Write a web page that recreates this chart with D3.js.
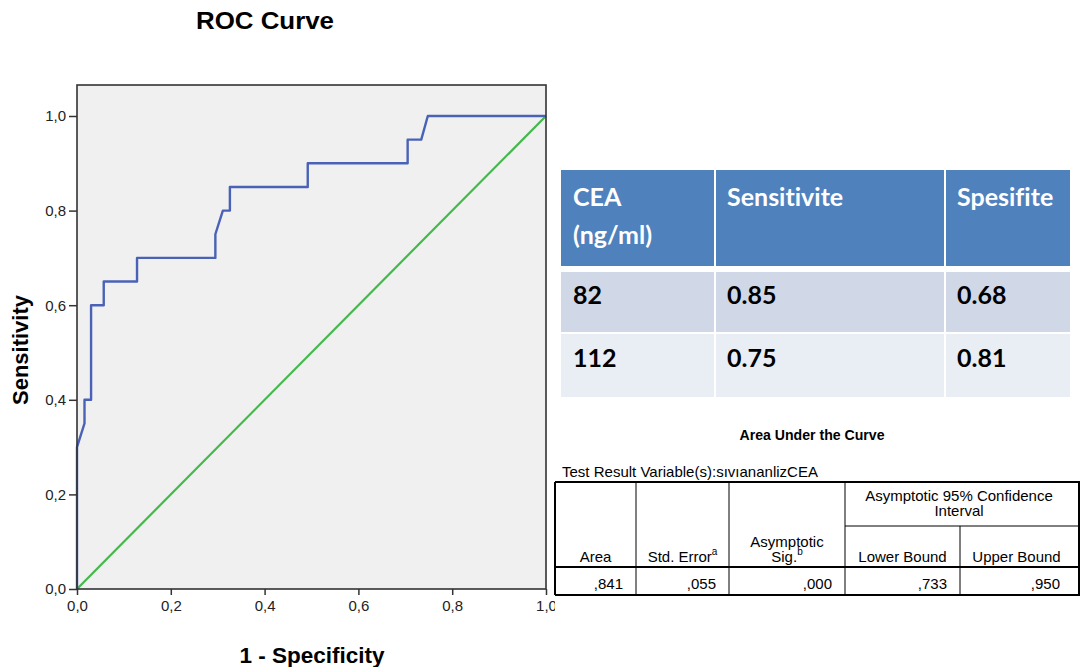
<!DOCTYPE html>
<html lang="en">
<head>
<meta charset="UTF-8">
<title>ROC Curve</title>
<style>
    html, body { margin: 0; padding: 0; background: #fff; }
    text { font-family: "Liberation Sans", Arial, sans-serif; fill: #000; }
    .tick line { stroke: #333; stroke-width: 1.5; }
    .tick text { font-size: 15px; fill: #222; }
    .cut text { font-family: Lato, "Open Sans", sans-serif; font-weight: 700; font-size: 25px; font-variant-ligatures: none; }
    .auc text { font-size: 15px; }
</style>
</head>
<body>
<div id="wrapper"></div>
<script src="https://d3js.org/d3.v7.min.js"></script>
<script>
// ROC curve points: 1 - specificity / sensitivity
const fpr = [0, 0, 0.016, 0.016, 0.03, 0.03, 0.057, 0.057, 0.128, 0.128, 0.295, 0.295, 0.311, 0.326, 0.326, 0.492, 0.492, 0.705, 0.705, 0.734, 0.748, 1]
const tpr = [0, 0.30, 0.35, 0.40, 0.40, 0.60, 0.60, 0.65, 0.65, 0.70, 0.70, 0.75, 0.80, 0.80, 0.85, 0.85, 0.90, 0.90, 0.95, 0.95, 1, 1]
// reference (chance) line
const refX = [0, 1]
const refY = [0, 1]
const axisTicks = [0, 0.2, 0.4, 0.6, 0.8, 1]

// cut-off table
const cutHeader = [["CEA", "(ng/ml)"], ["Sensitivite"], ["Spesifite"]]
const cutValues = ["82", "112"]
const sensValues = ["0.85", "0.75"]
const specValues = ["0.68", "0.81"]

// area under the curve table
const aucHeader = ["Area", "Std. Error", "Asymptotic|Sig.", "Lower Bound", "Upper Bound"]
const aucSup = ["", "a", "b", "", ""]
const aucValues = [",841", ",055", ",000", ",733", ",950"]

const width = 1080, height = 667;
const svg = d3.select('#wrapper').append('svg')
    .attr('width', width)
    .attr('height', height);

// ===== ROC plot
const plot = { left: 77, right: 546, top: 85, bottom: 589 };
const xScale = d3.scaleLinear().domain([0, 1]).range([plot.left, plot.right]);
const yScale = d3.scaleLinear().domain([0, 1]).range([plot.bottom, 116]);
const fmt = d => d3.format('.1f')(d).replace('.', ',');

svg.append('rect')
    .attr('x', plot.left).attr('y', plot.top)
    .attr('width', plot.right - plot.left).attr('height', plot.bottom - plot.top)
    .attr('fill', '#f0f0f0');

const line = d3.line().x(d => xScale(d[0])).y(d => yScale(d[1])).curve(d3.curveLinear);

svg.append('path')
    .attr('d', line(d3.zip(refX, refY)))
    .attr('fill', 'none')
    .attr('stroke', '#43b94a')
    .attr('stroke-width', 2.2);

svg.append('path')
    .attr('d', line(d3.zip(fpr, tpr)))
    .attr('fill', 'none')
    .attr('stroke', '#4a62b6')
    .attr('stroke-width', 2.4)
    .attr('stroke-linejoin', 'round');

// frame
svg.append('rect')
    .attr('x', plot.left).attr('y', plot.top)
    .attr('width', plot.right - plot.left).attr('height', plot.bottom - plot.top)
    .attr('fill', 'none')
    .attr('stroke', '#333')
    .attr('stroke-width', 1.6);

const yAxis = svg.append('g')
    .attr('transform', `translate(${plot.left},0)`)
    .call(d3.axisLeft(yScale).tickValues(axisTicks).tickFormat(fmt).tickSize(8).tickSizeOuter(0).tickPadding(3));
yAxis.select('.domain').remove();

const xAxis = svg.append('g')
    .attr('transform', `translate(0,${plot.bottom})`)
    .call(d3.axisBottom(xScale).tickValues(axisTicks).tickFormat(fmt).tickSize(6).tickSizeOuter(0).tickPadding(5));
xAxis.select('.domain').remove();

svg.append('text')
    .attr('x', 265).attr('y', 29)
    .attr('text-anchor', 'middle')
    .attr('font-size', 24).attr('font-weight', 700)
    .attr('textLength', 138).attr('lengthAdjust', 'spacingAndGlyphs')
    .text('ROC Curve');

svg.append('text')
    .attr('x', 312).attr('y', 663)
    .attr('text-anchor', 'middle')
    .attr('font-size', 22.5).attr('font-weight', 700)
    .text('1 - Specificity');

svg.append('text')
    .attr('transform', 'translate(28,350) rotate(-90)')
    .attr('text-anchor', 'middle')
    .attr('font-size', 22).attr('font-weight', 700)
    .text('Sensitivity');

// ===== cut-off table (top right)
const cut = svg.append('g').attr('class', 'cut');
const cutCols = [561, 715, 945, 1070];
const cutRows = [[272, 332, '#d0d8e8'], [334, 397, '#e9edf4']];

cut.append('rect')
    .attr('x', cutCols[0]).attr('y', 170)
    .attr('width', cutCols[3] - cutCols[0]).attr('height', 96)
    .attr('fill', '#4f81bd');

cutRows.forEach(r => {
    cut.append('rect')
        .attr('x', cutCols[0]).attr('y', r[0])
        .attr('width', cutCols[3] - cutCols[0]).attr('height', r[1] - r[0])
        .attr('fill', r[2]);
});

// white cell borders
cutCols.slice(1, 3).forEach(x => {
    cut.append('line')
        .attr('x1', x).attr('x2', x).attr('y1', 170).attr('y2', 397)
        .attr('stroke', '#fff').attr('stroke-width', 2);
});

cutHeader.forEach((lines, i) => {
    lines.forEach((t, j) => {
        cut.append('text')
            .attr('x', cutCols[i] + 12).attr('y', 206 + j * 38)
            .style('fill', '#fff')
            .text(t);
    });
});

[cutValues, sensValues, specValues].forEach((col, i) => {
    col.forEach((t, j) => {
        cut.append('text')
            .attr('x', cutCols[i] + 12).attr('y', [304, 367][j])
            .text(t);
    });
});

// ===== AUC table (bottom right)
const auc = svg.append('g').attr('class', 'auc');
const aucCols = [555, 636, 729, 845, 960, 1073];
const tTop = 482, tSub = 526, tHead = 567, tBot = 595;

// white sheet behind the table (also hides part of the last x label)
auc.append('rect')
    .attr('x', 555).attr('y', 470).attr('width', 525).attr('height', 160)
    .attr('fill', '#fff');

auc.append('text')
    .attr('x', 812).attr('y', 440)
    .attr('text-anchor', 'middle')
    .attr('font-weight', 700)
    .attr('font-size', 17)
    .attr('textLength', 145).attr('lengthAdjust', 'spacingAndGlyphs')
    .text('Area Under the Curve');

auc.append('text')
    .attr('x', 562).attr('y', 477)
    .attr('textLength', 256).attr('lengthAdjust', 'spacingAndGlyphs')
    .text('Test Result Variable(s):sıvıananlizCEA');

const hline = (x1, x2, y, w) => auc.append('line')
    .attr('x1', x1).attr('x2', x2).attr('y1', y).attr('y2', y)
    .attr('stroke', '#000').attr('stroke-width', w);
const vline = (x, y1, y2, w) => auc.append('line')
    .attr('x1', x).attr('x2', x).attr('y1', y1).attr('y2', y2)
    .attr('stroke', '#000').attr('stroke-width', w);

hline(aucCols[0], 1080, tTop, 2);
hline(aucCols[3], 1080, tSub, 1);
hline(aucCols[0], 1080, tHead, 2);
hline(aucCols[0], 1080, tBot, 2);
vline(aucCols[0], tTop, tBot, 2);
vline(aucCols[1], tTop, tBot, 1);
vline(aucCols[2], tTop, tBot, 1);
vline(aucCols[3], tTop, tBot, 1);
vline(aucCols[4], tSub, tBot, 1);
vline(1079, tTop, tBot, 2);

// merged header for the CI columns
const ciCenter = (aucCols[3] + aucCols[5]) / 2;
['Asymptotic 95% Confidence', 'Interval'].forEach((t, j) => {
    auc.append('text')
        .attr('x', ciCenter).attr('y', 501 + j * 15)
        .attr('text-anchor', 'middle')
        .text(t);
});

aucHeader.forEach((h, i) => {
    const cx = (aucCols[i] + aucCols[i + 1]) / 2;
    const parts = h.split('|');
    parts.forEach((p, j) => {
        const t = auc.append('text')
            .attr('x', cx).attr('y', 562 - (parts.length - 1 - j) * 15)
            .attr('text-anchor', 'middle');
        t.append('tspan').text(p);
        if (j === parts.length - 1 && aucSup[i]) {
            t.append('tspan')
                .attr('font-size', 10)
                .attr('dy', -7)
                .text(aucSup[i]);
        }
    });
});

aucValues.forEach((v, i) => {
    auc.append('text')
        .attr('x', aucCols[i + 1] - 13).attr('y', 589)
        .attr('text-anchor', 'end')
        .text(v);
});
</script>
</body>
</html>
